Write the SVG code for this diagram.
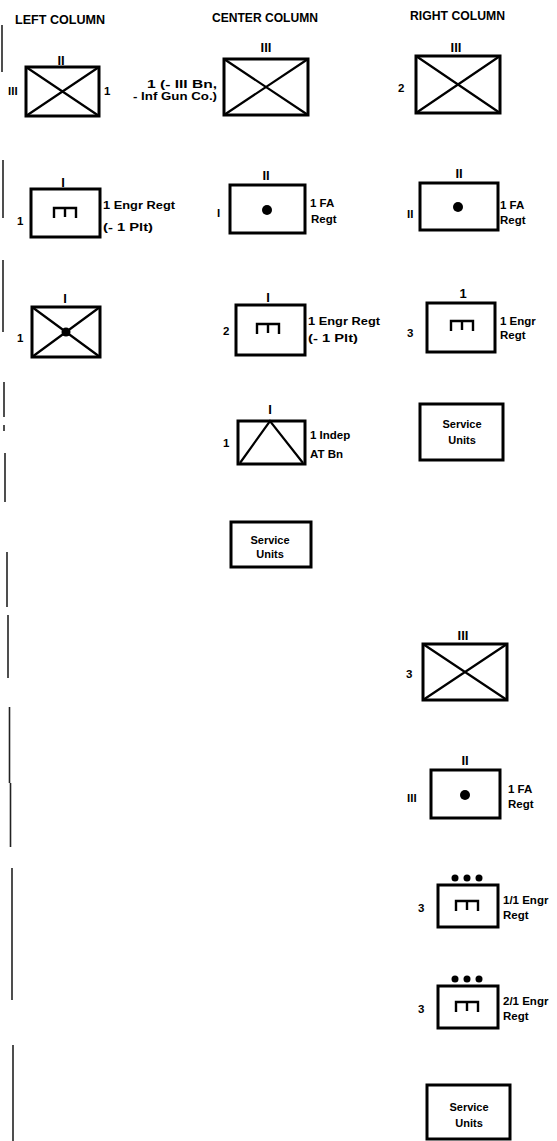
<svg xmlns="http://www.w3.org/2000/svg" width="557" height="1141" viewBox="0 0 557 1141">
<style>
text{font-family:"Liberation Sans",Arial,sans-serif;font-weight:bold;fill:#000}
.t{font-size:11.5px}
.h{font-size:12px}
.e{font-size:13px;text-anchor:middle}
.s{font-size:11px;text-anchor:middle}
.box{fill:none;stroke:#000;stroke-width:3}
.x{stroke:#000;stroke-width:2.2;fill:none}
.eng{fill:none;stroke:#000;stroke-width:2.4}
.edge{stroke:#222;stroke-width:1.6}
</style>
<defs>
<path id="eng" class="eng" d="M-11,6 V-4 H11 V6 M0,-4 V5"/>
</defs>
<rect width="557" height="1141" fill="#fff"/>

<g id="margin">
<line class="edge" x1="2" y1="25" x2="2" y2="72"/>
<line class="edge" x1="3" y1="160" x2="3" y2="218"/>
<line class="edge" x1="3" y1="260" x2="3" y2="332"/>
<line class="edge" x1="4" y1="382" x2="4" y2="417"/>
<line class="edge" x1="4" y1="425" x2="4" y2="431"/>
<line class="edge" x1="5" y1="453" x2="5" y2="502"/>
<line class="edge" x1="7" y1="552" x2="7" y2="607"/>
<line class="edge" x1="8" y1="615" x2="8" y2="678"/>
<line class="edge" x1="9.5" y1="707" x2="9.5" y2="783"/>
<line class="edge" x1="10.5" y1="783" x2="10.5" y2="847"/>
<line class="edge" x1="12" y1="868" x2="12" y2="1000"/>
<line class="edge" x1="13" y1="1045" x2="13" y2="1141"/>
</g>

<g id="titles">
<text class="h" x="15" y="24" textLength="90" lengthAdjust="spacingAndGlyphs">LEFT COLUMN</text>
<text class="h" x="212" y="22" textLength="106" lengthAdjust="spacingAndGlyphs">CENTER COLUMN</text>
<text class="h" x="410" y="20" textLength="95" lengthAdjust="spacingAndGlyphs">RIGHT COLUMN</text>
</g>

<!-- LEFT COLUMN -->
<g id="left-inf-regt">
<rect class="box" x="26" y="67" width="73" height="49"/>
<path class="x" d="M26,67 L99,116 M99,67 L26,116"/>
<text class="e" x="61" y="65">II</text>
<text class="t" x="8" y="95">III</text>
<text class="t" x="104" y="95">1</text>
</g>
<g id="left-engr">
<rect class="box" x="31" y="189" width="69" height="48"/>
<use href="#eng" x="65" y="212"/>
<text class="e" x="63" y="187">I</text>
<text class="t" x="17" y="225">1</text>
<text class="t" x="103" y="209" textLength="72" lengthAdjust="spacingAndGlyphs">1 Engr Regt</text>
<text class="t" x="103" y="231" textLength="50" lengthAdjust="spacingAndGlyphs">(- 1 Plt)</text>
</g>
<g id="left-inf-gun">
<rect class="box" x="32" y="307" width="68" height="50"/>
<path class="x" d="M32,307 L100,357 M100,307 L32,357"/>
<circle cx="66" cy="332" r="4.5"/>
<text class="e" x="65" y="303">I</text>
<text class="t" x="17" y="342">1</text>
</g>

<!-- CENTER COLUMN -->
<g id="center-inf-regt">
<rect class="box" x="224" y="59" width="84" height="56"/>
<path class="x" d="M224,59 L308,115 M308,59 L224,115"/>
<text class="e" x="266" y="52">III</text>
<text class="t" x="217" y="88" text-anchor="end" textLength="70" lengthAdjust="spacingAndGlyphs">1 (- III Bn,</text>
<text class="t" x="217" y="100" text-anchor="end" textLength="84" lengthAdjust="spacingAndGlyphs">- Inf Gun Co.)</text>
</g>
<g id="center-fa">
<rect class="box" x="230" y="185" width="75" height="48"/>
<circle cx="267" cy="210" r="5"/>
<text class="e" x="266" y="180">II</text>
<text class="t" x="217" y="217">I</text>
<text class="t" x="310" y="207">1 FA</text>
<text class="t" x="311" y="223">Regt</text>
</g>
<g id="center-engr">
<rect class="box" x="236" y="305" width="69" height="50"/>
<use href="#eng" x="268" y="328"/>
<text class="e" x="268" y="302">I</text>
<text class="t" x="223" y="335">2</text>
<text class="t" x="308" y="325" textLength="72" lengthAdjust="spacingAndGlyphs">1 Engr Regt</text>
<text class="t" x="308" y="342" textLength="50" lengthAdjust="spacingAndGlyphs">(- 1 Plt)</text>
</g>
<g id="center-at">
<rect class="box" x="238" y="421" width="67" height="43"/>
<path class="x" d="M240,463 L270,421 L303,463"/>
<text class="e" x="270" y="414">I</text>
<text class="t" x="223" y="447">1</text>
<text class="t" x="310" y="439">1 Indep</text>
<text class="t" x="310" y="458">AT Bn</text>
</g>
<g id="center-service">
<rect class="box" x="231" y="522" width="80" height="45"/>
<text class="s" x="270" y="544">Service</text>
<text class="s" x="270" y="558">Units</text>
</g>

<!-- RIGHT COLUMN -->
<g id="right-inf-regt-2">
<rect class="box" x="416" y="56" width="84" height="57"/>
<path class="x" d="M416,56 L500,113 M500,56 L416,113"/>
<text class="e" x="456" y="52">III</text>
<text class="t" x="398" y="92">2</text>
</g>
<g id="right-fa-1">
<rect class="box" x="420" y="183" width="78" height="47"/>
<circle cx="458" cy="207" r="5"/>
<text class="e" x="459" y="178">II</text>
<text class="t" x="407" y="218">II</text>
<text class="t" x="500" y="209">1 FA</text>
<text class="t" x="500" y="224">Regt</text>
</g>
<g id="right-engr-1">
<rect class="box" x="427" y="303" width="68" height="49"/>
<use href="#eng" x="462" y="325"/>
<text class="e" x="463" y="298">1</text>
<text class="t" x="407" y="337">3</text>
<text class="t" x="500" y="325">1 Engr</text>
<text class="t" x="500" y="339">Regt</text>
</g>
<g id="right-service-1">
<rect class="box" x="420" y="404" width="83" height="56"/>
<text class="s" x="462" y="428">Service</text>
<text class="s" x="462" y="444">Units</text>
</g>
<g id="right-inf-regt-3">
<rect class="box" x="423" y="644" width="84" height="56"/>
<path class="x" d="M423,644 L507,700 M507,644 L423,700"/>
<text class="e" x="463" y="640">III</text>
<text class="t" x="406" y="678">3</text>
</g>
<g id="right-fa-2">
<rect class="box" x="431" y="770" width="69" height="48"/>
<circle cx="465" cy="795" r="5"/>
<text class="e" x="465" y="765">II</text>
<text class="t" x="407" y="802">III</text>
<text class="t" x="508" y="793">1 FA</text>
<text class="t" x="508" y="808">Regt</text>
</g>
<g id="right-engr-bn-1">
<rect class="box" x="438" y="885" width="60" height="42"/>
<circle cx="455" cy="878" r="3.5"/><circle cx="467" cy="878" r="3.5"/><circle cx="479" cy="878" r="3.5"/>
<use href="#eng" x="467" y="905"/>
<text class="t" x="418" y="912">3</text>
<text class="t" x="503" y="904">1/1 Engr</text>
<text class="t" x="503" y="919">Regt</text>
</g>
<g id="right-engr-bn-2">
<rect class="box" x="438" y="986" width="60" height="42"/>
<circle cx="455" cy="979" r="3.5"/><circle cx="467" cy="979" r="3.5"/><circle cx="479" cy="979" r="3.5"/>
<use href="#eng" x="467" y="1006"/>
<text class="t" x="418" y="1013">3</text>
<text class="t" x="503" y="1005">2/1 Engr</text>
<text class="t" x="503" y="1020">Regt</text>
</g>
<g id="right-service-2">
<rect class="box" x="427" y="1085" width="83" height="54"/>
<text class="s" x="469" y="1111">Service</text>
<text class="s" x="469" y="1127">Units</text>
</g>
</svg>
